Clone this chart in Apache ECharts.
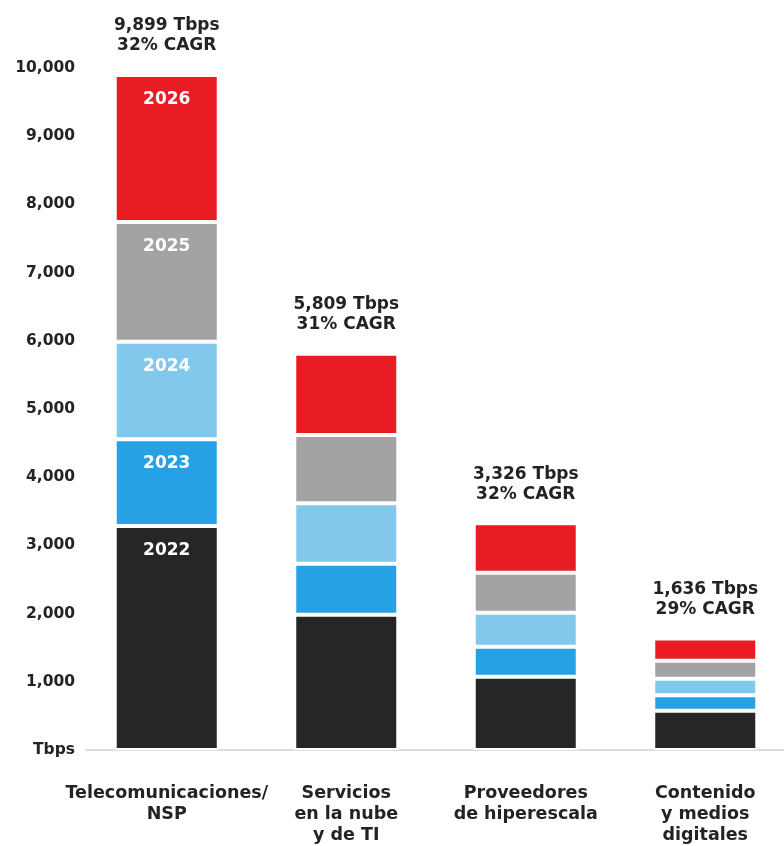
<!DOCTYPE html>
<html>
<head>
<meta charset="utf-8">
<script src="https://cdn.jsdelivr.net/npm/echarts@6/dist/echarts.min.js"></script>
<style>
  html, body { margin: 0; padding: 0; background: #fff; }
  #chart { width: 784px; height: 846px; }
</style>
</head>
<body>
<div id="chart"></div>
<script>
// Capacity by segment, stacked by year (Tbps)
const categories = [
  'Telecomunicaciones/\nNSP',
  'Servicios\nen la nube\ny de TI',
  'Proveedores\nde hiperescala',
  'Contenido\ny medios\ndigitales'
];
const years = ['2022', '2023', '2024', '2025', '2026'];
const y2022 = [3284, 1984, 1075, 576];
const y2023 = [1272, 748, 440, 226];
const y2024 = [1431, 885, 498, 243];
const y2025 = [1755, 1002, 587, 264];
const y2026 = [2157, 1190, 726, 327];
const cagr = [32, 31, 32, 29];
const yTicks = [0, 1000, 2000, 3000, 4000, 5000, 6000, 7000, 8000, 9000, 10000];

const seriesData = [y2022, y2023, y2024, y2025, y2026];
const colors = ['#262626', '#27a1e6', '#82c8ec', '#a3a3a5', '#e91c24'];

const FONT = 'DejaVu Sans';
const TEXT = '#232323';

const totals = categories.map((_, i) => seriesData.reduce((s, arr) => s + arr[i], 0));

const series = years.map((yr, k) => ({
  name: yr,
  type: 'bar',
  stack: 'total',
  barWidth: 104,
  itemStyle: { color: colors[k], borderColor: '#ffffff', borderWidth: 2 },
  data: seriesData[k].map((v, i) => {
    const item = { value: v };
    if (i === 0) {
      // year tag only on the first column
      item.label = {
        show: true,
        position: 'insideTop',
        distance: 16,
        formatter: yr,
        color: '#ffffff',
        fontFamily: FONT,
        fontWeight: 'bold',
        fontSize: 17
      };
    }
    return item;
  })
}));

// totals + CAGR above each column
series.push({
  name: 'totales',
  type: 'bar',
  stack: 'total',
  barWidth: 104,
  itemStyle: { color: 'transparent' },
  silent: true,
  data: totals.map(() => 0),
  label: {
    show: true,
    position: 'top',
    distance: 19,
    formatter: (p) => totals[p.dataIndex].toLocaleString('en-US') + ' Tbps\n' + cagr[p.dataIndex] + '% CAGR',
    color: TEXT,
    fontFamily: FONT,
    fontWeight: 'bold',
    fontSize: 17,
    lineHeight: 20,
    align: 'center'
  }
});

const chart = echarts.init(document.getElementById('chart'), null, { renderer: 'canvas' });
chart.setOption({
  animation: false,
  backgroundColor: '#ffffff',
  grid: { left: 77, top: 68, width: 718, height: 682, containLabel: false, outerBoundsMode: 'none' },
  xAxis: {
    type: 'category',
    data: categories,
    axisLine: { show: false },
    axisTick: { show: false },
    axisLabel: {
      interval: 0,
      margin: 33,
      color: TEXT,
      fontFamily: FONT,
      fontWeight: 'bold',
      fontSize: 17.5,
      lineHeight: 21
    }
  },
  yAxis: {
    type: 'value',
    min: yTicks[0],
    max: yTicks[yTicks.length - 1],
    interval: 1000,
    splitLine: { show: false },
    axisLine: { show: false },
    axisTick: { show: false },
    axisLabel: {
      margin: 2,
      color: TEXT,
      fontFamily: FONT,
      fontWeight: 'bold',
      fontSize: 15.5,
      formatter: (v) => v === 0 ? 'Tbps' : v.toLocaleString('en-US')
    }
  },
  series: series
});

// baseline under the columns
const baseY = chart.convertToPixel({ yAxisIndex: 0 }, 0);
chart.setOption({
  graphic: [{
    type: 'line',
    z: 0,
    shape: { x1: 85, y1: baseY, x2: 784, y2: baseY },
    style: { stroke: '#dcdcdc', lineWidth: 2 }
  }]
});
</script>
</body>
</html>
